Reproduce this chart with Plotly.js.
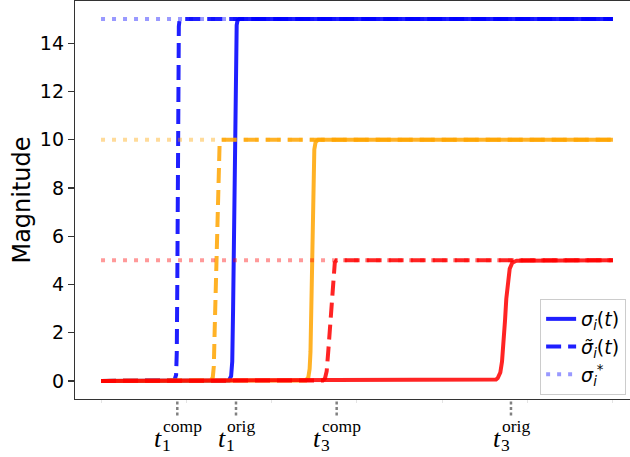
<!DOCTYPE html>
<html><head><meta charset="utf-8">
<script src="https://cdn.plot.ly/plotly-3.0.1.min.js"></script>
<style>html,body{margin:0;padding:0;overflow:hidden;background:#fff}</style>
</head><body><div id="chart" style="width:630px;height:457px"></div>
<script>
// ---- data (time in arbitrary units, magnitude) ----
const blueSolidT = [0, 1.50, 1.525, 1.538, 1.548, 1.558, 1.566, 1.574, 1.582, 1.59, 1.60, 1.62, 6];
const blueSolidY = [0, 0.02, 0.2, 0.8, 3, 6.5, 9.5, 12.5, 14.2, 14.75, 14.95, 15, 15];
const blueDashT  = [0, 0.86, 0.88, 0.888, 0.894, 0.9, 0.906, 0.912, 0.92, 0.935, 6];
const blueDashY  = [0, 0.02, 0.25, 1.2, 4, 10, 13.8, 14.7, 14.95, 15, 15];
const orangeSolidT = [0, 2.40, 2.43, 2.445, 2.455, 2.465, 2.473, 2.481, 2.49, 2.5, 2.515, 2.545, 6];
const orangeSolidY = [0, 0.02, 0.15, 0.5, 1.2, 3.0, 5.0, 7.0, 9.0, 9.6, 9.9, 10, 10];
const orangeDashT  = [0, 1.29, 1.31, 1.322, 1.335, 1.35, 1.365, 1.378, 1.39, 1.41, 6];
const orangeDashY  = [0, 0.02, 0.15, 0.6, 2.5, 5.0, 7.5, 9.3, 9.85, 10, 10];
const redSolidT = [0, 4.60, 4.63, 4.65, 4.68, 4.70, 4.72, 4.735, 4.75, 4.77, 4.79, 4.82, 4.87, 6];
const redSolidY = [0, 0.02, 0.06, 0.12, 0.35, 0.8, 1.6, 2.5, 3.4, 4.2, 4.65, 4.9, 4.98, 5];
const redDashT  = [0, 2.60, 2.625, 2.645, 2.665, 2.69, 2.71, 2.725, 2.74, 2.76, 6];
const redDashY  = [0, 0.02, 0.1, 0.4, 1.3, 2.5, 3.8, 4.6, 4.9, 5, 5];
const starT = [0, 6];
const sigmaStar = [15, 10, 5];           // blue, orange, red targets

const tickPositions = [0.894, 1.582, 2.762, 4.805];
const tickIndex = ['1', '1', '3', '3'];
const tickSup = ['comp', 'orig', 'comp', 'orig'];
const faintTicks = [0, 1, 2, 3, 4, 5, 6];
const yTicks = [0, 2, 4, 6, 8, 10, 12, 14];

const legendNames = [
  '<i>σ</i><sub><i>i</i></sub>(<i>t</i>)',
  '<i>σ̃</i><sub><i>i</i></sub>(<i>t</i>)',
  '<i>σ</i><sub><i>i</i></sub><sup>*</sup>'
];

// ---- styles ----
const cols = {
  blue:   {main: 'rgba(0,0,255,0.88)',   light: 'rgba(0,0,255,0.4)'},
  orange: {main: 'rgba(255,165,0,0.85)', light: 'rgba(255,165,0,0.4)'},
  red:    {main: 'rgba(255,0,0,0.86)',   light: 'rgba(255,0,0,0.4)'}
};
const LW = 4;
const DASH = '15px,7px';
const DOT = '4px,7px';

function tr(x, y, color, dash, name, show) {
  return {x: x, y: y, type: 'scatter', mode: 'lines', name: name || '',
    showlegend: !!show, hoverinfo: 'skip',
    line: {color: color, width: LW, dash: dash, shape: 'linear'}};
}

const data = [
  tr(blueSolidT, blueSolidY, cols.blue.main, 'solid', legendNames[0], true),
  tr(blueDashT, blueDashY, cols.blue.main, DASH, legendNames[1], true),
  tr(starT, [sigmaStar[0], sigmaStar[0]], cols.blue.light, DOT, legendNames[2], true),
  tr(orangeSolidT, orangeSolidY, cols.orange.main, 'solid'),
  tr(orangeDashT, orangeDashY, cols.orange.main, DASH),
  tr(starT, [sigmaStar[1], sigmaStar[1]], cols.orange.light, DOT),
  tr(redSolidT, redSolidY, cols.red.main, 'solid'),
  tr(redDashT, redDashY, cols.red.main, DASH),
  tr(starT, [sigmaStar[2], sigmaStar[2]], cols.red.light, DOT)
];

// ---- tick label annotations (t_k^{comp/orig}) ----
const cv = document.createElement('canvas').getContext('2d');
function tw(txt, font) { cv.font = font; return cv.measureText(txt).width; }
const T_SIZE = 26, S_SIZE = 17.5, SERIF = 'Liberation Serif';
const annotations = [];
const shapes = [];
tickPositions.forEach((p, k) => {
  const wt = tw('t', 'italic ' + T_SIZE + 'px "' + SERIF + '"');
  const ws = tw(tickSup[k], S_SIZE + 'px "' + SERIF + '"');
  const total = wt + 1 + ws;
  const left = -total / 2;
  annotations.push({xref: 'x', yref: 'paper', x: p, y: 0, xanchor: 'left', yanchor: 'middle',
    xshift: left - 2, yshift: -39, showarrow: false, text: '<i>t</i>',
    font: {family: SERIF, size: T_SIZE, color: '#000'}});
  annotations.push({xref: 'x', yref: 'paper', x: p, y: 0, xanchor: 'left', yanchor: 'middle',
    xshift: left + wt - 1, yshift: -46, showarrow: false, text: tickIndex[k],
    font: {family: SERIF, size: S_SIZE, color: '#000'}});
  annotations.push({xref: 'x', yref: 'paper', x: p, y: 0, xanchor: 'left', yanchor: 'middle',
    xshift: left + wt, yshift: -27, showarrow: false, text: tickSup[k],
    font: {family: SERIF, size: S_SIZE, color: '#000'}});
  shapes.push({type: 'line', xref: 'x', yref: 'paper', x0: p, x1: p, y0: -0.006, y1: -0.048,
    line: {color: '#808080', width: 2.5, dash: '3px,2.5px'}});
});

const layout = {
  width: 630, height: 457,
  margin: {l: 75, r: 0, t: 1, b: 58},
  paper_bgcolor: '#fff', plot_bgcolor: '#fff',
  font: {family: 'DejaVu Sans', color: '#000'},
  showlegend: true,
  legend: {x: 0.993, y: 0.01, xanchor: 'right', yanchor: 'bottom',
    bgcolor: 'rgba(255,255,255,0.8)', bordercolor: '#cccccc', borderwidth: 1,
    font: {family: 'DejaVu Sans', size: 19, color: '#000'}},
  xaxis: {range: [-0.305, 6.2], showgrid: false, zeroline: false,
    showline: true, linecolor: '#333', linewidth: 1.2, mirror: true,
    tickvals: faintTicks, ticks: 'outside', ticklen: 3, tickcolor: '#e4e4e4',
    showticklabels: false},
  yaxis: {range: [-0.75, 15.75], showgrid: false, zeroline: false,
    showline: true, linecolor: '#333', linewidth: 1.2,
    tickvals: yTicks, ticktext: yTicks.map(String), ticks: 'outside', ticklen: 6,
    tickcolor: '#333', tickwidth: 1.2,
    tickfont: {family: 'DejaVu Sans', size: 19, color: '#000'},
    title: {text: 'Magnitude', font: {family: 'DejaVu Sans', size: 24, color: '#000'}, standoff: 2}},
  annotations: annotations,
  shapes: shapes
};

Plotly.newPlot('chart', data, layout, {displayModeBar: false, staticPlot: true});
</script>
</body></html>
